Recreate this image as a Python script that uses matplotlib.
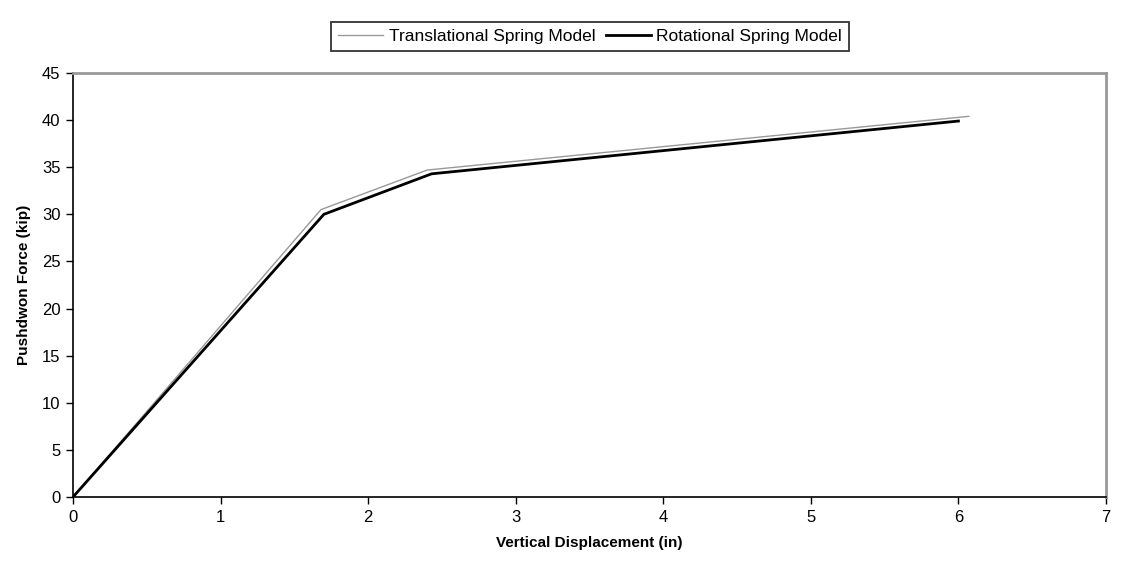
import numpy as np
import matplotlib
matplotlib.use("Agg")
import matplotlib.pyplot as plt

plt.rcParams['font.family'] = ['Liberation Sans', 'DejaVu Sans']

# curva de empuje (pushdown)
despTras = [0.0, 1.68, 2.40, 6.07]
fuerzaTras = [0.0, 30.5, 34.7, 40.4]
despRot = [0.0, 1.70, 2.43, 6.00]
fuerzaRot = [0.0, 30.0, 34.3, 39.9]

xTicks = [0, 1, 2, 3, 4, 5, 6, 7]
yTicks = [0, 5, 10, 15, 20, 25, 30, 35, 40, 45]

fig = plt.figure(figsize=(11.22, 5.71), dpi=100)
ax = fig.add_axes([73/1122, 1-497/571, (1106-73)/1122, (497-73)/571])

ax.plot(despTras, fuerzaTras, color="#999999", lw=1.0, label="Translational Spring Model")
ax.plot(despRot, fuerzaRot, color="black", lw=2.0, label="Rotational Spring Model")

ax.set_xlim(0, 7)
ax.set_ylim(0, 45)
ax.set_xticks(xTicks)
ax.set_yticks(yTicks)
ax.tick_params(direction="out", length=5, width=1, labelsize=12, colors="black", pad=4)
for lado in ["top", "right"]:
    ax.spines[lado].set_color("#999999")
    ax.spines[lado].set_linewidth(2)
for lado in ["left", "bottom"]:
    ax.spines[lado].set_color("black")
    ax.spines[lado].set_linewidth(1.2)

ax.set_xlabel("Vertical Displacement (in)", fontsize=11, fontweight="bold", labelpad=8)
ax.set_ylabel("Pushdwon Force (kip)", fontsize=11, fontweight="bold", labelpad=8)

leg = fig.legend(loc="upper center", bbox_to_anchor=(590/1122, 1-13/571), ncol=2,
                 fontsize=12.5, frameon=True, fancybox=False, edgecolor="black",
                 handlelength=2.6, handletextpad=0.3, columnspacing=0.6, borderpad=0.4)
leg.get_frame().set_linewidth(1.3)

fig.savefig("out.png", dpi=100)
